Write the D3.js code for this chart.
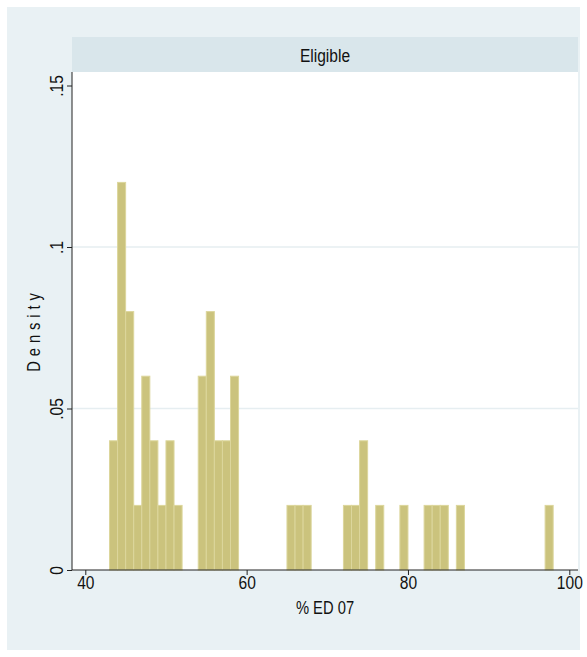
<!DOCTYPE html>
<html>
<head>
<meta charset="utf-8">
<script src="https://cdn.jsdelivr.net/npm/d3@7/dist/d3.min.js"></script>
<style>
  html, body { margin: 0; padding: 0; background: #ffffff; }
  svg text { font-family: "Liberation Sans", Arial, sans-serif; fill: #111; }
</style>
</head>
<body>
<svg id="chart" width="587" height="657"></svg>
<script>
// Histogram of % ED 07 (bin width 1, starting at 43) for the "Eligible" group
const binStart = 43;
const binWidth = 1;
const densities = [
  0.04, 0.12, 0.08, 0.02, 0.06, 0.04, 0.02, 0.04, 0.02,   // 43-51
  0, 0,                                                   // 52-53
  0.06, 0.08, 0.04, 0.04, 0.06,                           // 54-58
  0, 0, 0, 0, 0, 0,                                       // 59-64
  0.02, 0.02, 0.02,                                       // 65-67
  0, 0, 0, 0,                                             // 68-71
  0.02, 0.02, 0.04,                                       // 72-74
  0,                                                      // 75
  0.02,                                                   // 76
  0, 0,                                                   // 77-78
  0.02,                                                   // 79
  0, 0,                                                   // 80-81
  0.02, 0.02, 0.02,                                       // 82-84
  0,                                                      // 85
  0.02,                                                   // 86
  0, 0, 0, 0, 0, 0, 0, 0, 0, 0,                           // 87-96
  0.02                                                    // 97
];
const xTicks = [40, 60, 80, 100];
const yTicks = [0, 0.05, 0.1, 0.15];
const yTickLabels = ["0", ".05", ".1", ".15"];
const panelTitle = "Eligible";
const xTitle = "% ED 07";
const yTitle = "Density";

const bins = densities.map((d, i) => ({ x0: binStart + i * binWidth, x1: binStart + (i + 1) * binWidth, d }));

const svg = d3.select("#chart");
const W = 587, H = 657;
const narrow = 0.82;   // horizontal squeeze to get a narrow sans face

// graph region
svg.append("rect").attr("x", 0).attr("y", 0).attr("width", W).attr("height", H).attr("fill", "#ffffff");
svg.append("rect").attr("x", 7).attr("y", 7).attr("width", W - 14).attr("height", H - 14).attr("fill", "#e9f1f4");

const plot = { left: 72, right: 578, top: 72, bottom: 570 };

// scales
const x = d3.scaleLinear().domain([40, 100]).range([85.3, 569.3]);
const y = d3.scaleLinear().domain([0, 0.15]).range([plot.bottom, 85.5]);

// plot region
svg.append("rect")
  .attr("x", plot.left).attr("y", plot.top)
  .attr("width", plot.right - plot.left).attr("height", plot.bottom - plot.top)
  .attr("fill", "#ffffff");

// panel strip
svg.append("rect")
  .attr("x", plot.left).attr("y", 37)
  .attr("width", plot.right - plot.left).attr("height", plot.top - 37)
  .attr("fill", "#d9e6eb");
svg.append("text")
  .attr("transform", `translate(${(plot.left + plot.right) / 2},55) scale(${narrow},1)`)
  .attr("text-anchor", "middle").attr("dominant-baseline", "central")
  .attr("font-size", 19).text(panelTitle);

// horizontal grid lines
svg.append("g").selectAll("line")
  .data(yTicks.filter(v => v > 0 && v < 0.15))
  .join("line")
  .attr("x1", plot.left).attr("x2", plot.right)
  .attr("y1", d => y(d)).attr("y2", d => y(d))
  .attr("stroke", "#e6eef1").attr("stroke-width", 1.5);

// bars
svg.append("g").selectAll("rect")
  .data(bins.filter(b => b.d > 0))
  .join("rect")
  .attr("x", b => x(b.x0))
  .attr("width", b => x(b.x1) - x(b.x0))
  .attr("y", b => y(b.d))
  .attr("height", b => y(0) - y(b.d))
  .attr("fill", "#cbc37d")
  .attr("stroke", "#dcd69c")
  .attr("stroke-width", 1);

// y axis
const yAxis = d3.axisLeft(y).tickValues(yTicks).tickSize(5)
  .tickFormat((d, i) => yTickLabels[i]);
const gy = svg.append("g").attr("transform", `translate(${plot.left},0)`).call(yAxis);
gy.select(".domain").attr("d", `M0,${plot.top}V${plot.bottom}`).attr("stroke", "#222");
gy.selectAll(".tick line").attr("stroke", "#222");
gy.selectAll(".tick text")
  .attr("font-size", 19)
  .attr("transform", `rotate(-90) scale(${narrow},1)`)
  .attr("x", 0).attr("y", -9)
  .attr("text-anchor", "middle")
  .attr("dy", "0");

// x axis
const xAxis = d3.axisBottom(x).tickValues(xTicks).tickSize(5);
const gx = svg.append("g").attr("transform", `translate(0,${plot.bottom})`).call(xAxis);
gx.select(".domain").attr("d", `M${plot.left},0H${plot.right}`).attr("stroke", "#222");
gx.selectAll(".tick line").attr("stroke", "#222");
gx.selectAll(".tick text")
  .attr("font-size", 19)
  .attr("transform", `scale(${narrow},1)`)
  .attr("y", 5).attr("dy", "0.75em");

// axis titles
svg.append("text")
  .attr("transform", `translate(${(plot.left + plot.right) / 2},607) scale(${narrow},1)`)
  .attr("text-anchor", "middle").attr("dominant-baseline", "central")
  .attr("font-size", 18).text(xTitle);
svg.append("text")
  .attr("transform", `translate(33,${(plot.top + plot.bottom) / 2 + 9}) rotate(-90) scale(${narrow},1)`)
  .attr("text-anchor", "middle").attr("dominant-baseline", "central")
  .attr("font-size", 18).attr("letter-spacing", "6px").text(yTitle);
</script>
</body>
</html>
